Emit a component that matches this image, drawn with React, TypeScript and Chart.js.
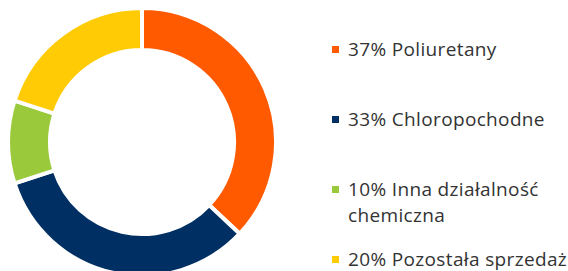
import React, { useEffect, useRef } from "react";
import { Chart, registerables } from "chart.js";

Chart.register(...registerables);

const categories = ["Poliuretany", "Chloropochodne", "Inna działalność chemiczna", "Pozostała sprzedaż"];
const shares = [37, 33, 10, 20];
const colors = ["#FF5A00", "#003063", "#9ACA3C", "#FFCB05"];

export default function App() {
  const canvasRef = useRef<HTMLCanvasElement | null>(null);

  useEffect(() => {
    if (!canvasRef.current) return;
    const chart = new Chart(canvasRef.current, {
      type: "doughnut",
      data: {
        labels: categories,
        datasets: [
          {
            data: shares,
            backgroundColor: colors,
            borderColor: "#ffffff",
            borderWidth: 4,
            hoverOffset: 0,
          },
        ],
      },
      options: {
        animation: false,
        responsive: true,
        maintainAspectRatio: false,
        cutout: "68.7%",
        layout: { padding: 0 },
        plugins: {
          legend: { display: false },
          tooltip: { enabled: false },
        },
      },
    });
    return () => chart.destroy();
  }, []);

  return (
    <div style={{ position: "fixed", left: 0, top: 0, width: 568, height: 271, overflow: "hidden", background: "#fff" }}>
      <div style={{ position: "absolute", left: 6, top: 6, width: 272, height: 272 }}>
        <canvas ref={canvasRef} />
      </div>
      <div
        style={{
          position: "absolute",
          left: 332,
          top: 36,
          width: 250,
          fontFamily: "'Open Sans', sans-serif",
          fontSize: 19,
          lineHeight: "26px",
          letterSpacing: "0.35px",
          color: "#333333",
        }}
      >
        {categories.map((c, i) => (
          <div key={c} style={{ display: "flex", alignItems: "flex-start", height: 70 }}>
            <span
              style={{
                flex: "0 0 auto",
                width: 7,
                height: 7,
                marginTop: 10,
                marginRight: 9,
                background: colors[i],
              }}
            />
            <span style={{ flex: "0 0 auto", width: 226 }}>{`${shares[i]}% ${c}`}</span>
          </div>
        ))}
      </div>
    </div>
  );
}
